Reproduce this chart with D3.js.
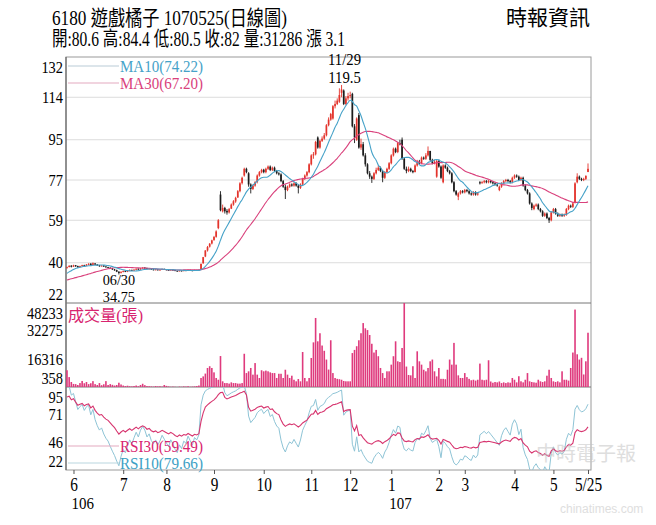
<!DOCTYPE html>
<html>
<head>
<meta charset="utf-8">
<script src="https://cdn.jsdelivr.net/npm/d3@7"></script>
<style>
body{margin:0;background:#fff;}
text{font-family:"Liberation Serif","Noto Sans CJK TC",serif;}
</style>
</head>
<body>
<div id="chart"></div>
<script>
//Daily candles, 2017/05 - 2018/05/25
var opens=[37.6,38.1,38.7,38.3,38.9,38.5,38.1,38.5,38.9,38.7,
39.1,39.6,39.0,39.7,39.2,38.8,38.5,38.7,38.3,38.0,
37.8,37.4,37.0,36.7,36.0,35.5,35.9,36.3,36.0,36.4,
36.8,36.5,36.9,37.3,37.0,37.5,37.8,37.6,37.2,37.4,
37.0,36.8,37.0,36.7,36.9,37.2,37.0,36.8,36.6,36.9,
36.7,36.4,36.2,36.5,36.3,36.6,36.5,36.8,36.6,36.4,
36.7,36.6,36.9,39.8,42.8,45.5,47.2,48.6,50.2,51.6,
55.5,70.5,63.0,64.5,63.2,62.5,64.2,66.0,67.4,69.2,
72.0,75.6,79.0,82.0,80.0,75.0,73.0,74.5,76.2,79.0,
80.5,81.6,80.5,82.0,83.0,81.5,82.5,81.0,80.0,79.5,
76.5,74.0,72.5,74.0,75.0,74.5,75.5,74.5,73.5,75.0,
77.5,79.0,80.5,84.0,88.0,88.5,96.0,91.5,94.5,95.5,
97.0,101.5,104.0,104.5,110.0,111.0,112.0,116.0,117.0,111.0,
113.5,114.5,115.5,101.0,95.0,106.0,91.5,93.0,88.0,84.0,
80.0,78.5,77.5,80.0,81.5,82.5,81.0,78.0,80.5,82.0,
84.5,88.0,91.0,89.5,93.5,95.0,86.5,82.0,81.0,82.0,
81.0,80.5,83.5,85.0,84.5,87.0,86.5,88.0,90.0,86.0,
84.5,78.5,85.5,83.0,76.0,83.5,82.5,81.0,80.0,76.0,
72.0,69.5,71.0,72.0,71.5,72.5,72.0,71.0,70.5,71.5,
70.5,76.0,75.5,76.0,76.5,76.0,76.5,76.0,75.5,75.0,
72.5,74.0,75.5,76.5,77.0,76.5,76.0,78.0,79.0,78.5,
77.0,78.0,74.5,72.5,71.0,66.5,64.0,65.5,66.0,64.0,
63.0,61.0,62.0,60.0,59.0,62.5,64.0,62.0,61.0,61.5,
61.0,61.5,64.0,65.5,65.0,67.0,76.0,78.5,77.5,77.0,
77.5,80.6];
var highs=[38.3,38.9,38.9,39.1,39.0,38.7,38.7,39.1,39.1,39.4,
39.8,39.8,40.1,39.8,39.4,39.0,38.9,38.9,38.5,38.2,
37.9,37.6,37.2,36.9,36.2,36.2,36.5,36.5,36.6,37.0,
36.9,37.1,37.5,37.5,37.7,38.0,38.0,37.8,37.6,37.5,
37.1,37.2,37.1,37.1,37.4,37.4,37.1,36.9,37.1,37.0,
36.8,36.5,36.7,36.6,36.8,36.8,37.0,36.9,36.7,36.9,
36.8,36.9,39.6,42.6,45.6,47.5,48.8,50.3,52.0,54.5,
59.5,72.0,66.0,65.0,64.0,64.5,66.5,68.0,69.5,72.5,
76.0,78.5,82.5,82.5,80.5,75.5,75.0,76.5,79.5,81.0,
82.0,82.0,82.5,83.5,83.5,83.0,83.0,81.5,80.5,80.0,
77.0,75.0,74.5,75.5,75.5,76.0,76.0,75.0,75.5,78.0,
79.5,81.0,84.5,88.5,89.5,94.5,96.5,95.0,96.5,98.0,
102.0,105.0,107.0,110.5,112.5,113.5,118.0,119.5,117.5,114.5,
116.0,116.5,116.0,102.0,105.0,107.0,95.5,94.0,89.0,84.5,
81.0,79.0,80.5,82.5,83.5,83.0,81.5,81.0,82.5,85.0,
88.5,91.5,91.5,94.0,95.0,96.0,87.0,83.0,83.0,82.5,
81.5,84.0,86.0,86.0,87.5,87.5,89.0,92.0,90.0,86.5,
86.0,86.0,86.0,83.5,84.0,84.0,83.0,81.5,80.5,76.5,
72.5,71.5,72.5,72.5,73.0,73.0,72.5,71.5,72.0,72.0,
71.5,76.5,76.5,77.0,77.0,77.0,77.0,76.5,76.0,75.5,
74.5,76.0,77.0,77.5,77.5,77.0,78.5,79.5,79.5,79.0,
78.5,78.5,75.0,73.0,71.5,67.0,66.0,66.5,66.5,64.5,
63.5,62.5,62.5,60.5,63.0,64.5,64.5,62.5,62.0,62.0,
62.0,64.5,66.0,66.0,67.0,76.0,80.0,79.0,78.0,78.0,
79.0,84.4];
var lows=[37.4,37.9,37.9,38.1,38.2,37.8,37.9,38.3,38.4,38.5,
38.9,38.8,38.8,39.0,38.6,38.2,38.3,38.1,37.8,37.6,
37.2,36.8,36.4,35.8,34.75,35.2,35.7,35.8,35.8,36.2,
36.3,36.3,36.7,36.8,36.8,37.3,37.4,37.0,37.0,36.8,
36.6,36.6,36.5,36.5,36.8,36.8,36.6,36.4,36.5,36.5,
36.2,36.0,36.1,36.1,36.2,36.3,36.4,36.4,36.2,36.3,
36.4,36.4,36.8,39.5,42.5,45.0,46.8,48.2,49.8,51.2,
55.0,63.0,62.5,62.0,61.5,62.0,64.0,65.5,66.8,69.0,
71.5,75.0,78.5,80.0,74.0,71.0,72.5,74.0,75.5,78.5,
80.0,80.0,80.0,81.5,81.0,81.0,80.5,79.5,79.0,76.0,
73.5,68.5,72.0,73.5,74.0,74.0,74.0,71.0,73.0,74.5,
77.0,78.5,80.0,83.5,86.5,88.0,91.0,91.0,94.0,95.0,
96.5,101.0,103.5,104.0,109.0,110.5,111.5,114.0,110.5,110.5,
112.5,113.5,100.5,93.5,94.5,91.0,90.5,87.5,83.0,79.5,
77.5,75.7,77.0,79.5,81.0,80.5,76.0,77.5,80.0,81.5,
84.0,87.5,89.0,89.0,92.5,86.0,81.5,80.0,80.5,80.5,
80.0,80.5,83.0,84.0,84.0,86.0,86.0,87.5,85.5,84.0,
84.0,78.0,82.5,77.5,75.5,82.0,80.5,79.5,75.5,71.5,
70.0,68.0,70.5,71.0,71.0,71.5,70.5,70.0,70.0,70.0,
70.0,75.0,75.5,75.5,75.5,75.5,75.5,75.0,74.5,74.0,
72.0,73.5,75.0,76.0,76.0,75.5,75.5,77.5,78.0,76.5,
76.5,74.0,72.0,70.5,66.0,63.5,63.5,65.0,63.5,62.5,
60.5,60.5,59.5,57.8,58.5,62.0,61.5,60.5,60.5,60.5,
60.5,61.0,63.5,64.5,64.5,66.5,75.5,77.0,76.5,76.5,
77.0,80.5];
var closes=[38.0,38.6,38.2,38.8,38.4,38.0,38.5,38.9,38.6,39.2,
39.5,39.0,39.8,39.2,38.8,38.5,38.7,38.3,38.0,37.8,
37.4,37.0,36.6,36.0,35.4,35.9,36.3,36.0,36.4,36.8,
36.5,36.9,37.3,37.0,37.5,37.8,37.6,37.2,37.4,37.0,
36.8,37.0,36.7,36.9,37.2,37.0,36.8,36.6,36.9,36.7,
36.4,36.2,36.5,36.3,36.6,36.5,36.8,36.6,36.4,36.7,
36.6,36.8,39.5,42.5,45.5,47.0,48.5,50.0,51.5,54.0,
59.0,63.5,64.5,63.0,62.5,64.0,66.0,67.5,69.0,72.0,
75.5,78.0,82.0,80.5,75.0,73.0,74.5,76.0,79.0,80.5,
81.5,80.5,82.0,83.0,81.5,82.5,81.0,80.0,79.5,76.5,
74.0,72.5,74.0,75.0,74.5,75.5,74.5,73.5,75.0,77.5,
79.0,80.5,84.0,88.0,88.5,94.0,91.5,94.5,95.5,97.0,
101.5,104.0,106.5,110.0,111.0,112.5,115.0,117.5,111.0,113.5,
114.5,115.0,101.0,96.0,104.5,91.5,93.0,88.0,84.0,80.0,
78.5,77.5,80.0,81.5,82.5,81.0,78.0,80.5,82.0,84.5,
88.0,91.0,89.5,93.5,93.0,86.5,82.0,81.0,82.0,81.0,
80.5,83.5,85.0,84.5,87.0,86.5,88.0,90.0,86.0,84.5,
85.0,85.5,83.0,78.0,83.5,82.5,81.0,80.0,76.0,72.0,
70.5,71.0,72.0,71.5,72.5,72.0,71.0,70.5,71.5,70.5,
71.0,75.5,76.0,76.5,76.0,76.5,76.0,75.5,75.0,74.5,
74.0,75.5,76.5,77.0,76.5,76.0,78.0,79.0,78.5,77.0,
78.0,74.5,72.5,71.0,66.5,64.5,65.5,66.0,64.0,63.0,
61.0,62.0,60.0,59.0,62.5,64.0,62.0,61.0,61.5,61.0,
61.5,64.0,65.5,65.0,66.5,75.5,78.5,77.5,77.0,77.5,
78.9,82.0];
//Volume in lots (張)
var volumes=[9900,6000,3200,2100,2000,1500,2600,3800,2500,3200,
2000,2500,3700,2000,1500,2600,1400,1900,3700,1500,
2000,1600,1200,1500,2800,1800,1200,900,1100,800,
700,900,1200,800,1500,2200,1400,900,800,700,
600,900,700,800,600,1500,1000,700,500,600,
500,400,600,500,700,600,800,500,600,700,
900,1200,5500,6400,8000,11200,12200,11200,8700,5500,
4500,18000,3600,2600,2600,2300,3000,2600,2600,2300,
2300,2600,19300,8300,9300,11200,7400,14000,7400,5500,
9900,9300,9700,9300,8700,8300,8300,5500,7900,7900,
5500,10200,7400,5500,6800,4500,3600,4900,3600,20300,
5500,3600,5500,16900,25800,39700,26400,31000,24000,21000,
16000,10300,27000,8300,5500,5000,4800,4500,3800,3600,
3600,3600,19700,21500,23600,27000,31000,36800,33800,32800,
30000,25000,20000,21500,17900,11200,8300,5500,9300,9300,
13100,17900,26400,15000,14600,22600,48233,12000,7200,7000,
12200,5500,20700,15000,13100,10200,9300,11200,15000,16000,
9300,6400,11200,5000,5000,4800,10200,16000,13100,25500,
13100,7000,5500,5500,8300,6000,5000,4200,4500,4000,
4500,13700,4500,4200,4500,15600,3500,2800,3200,3000,
3500,2600,3000,2600,3000,2800,5500,4500,3000,6500,
3600,3000,4500,8300,3600,3200,3000,2800,4500,3600,
3200,3600,6800,10200,5500,3600,3200,3600,3000,9300,
4500,4500,4000,11200,20000,44500,19000,16000,17000,7500,
15000,31286];
//Closes before the window, only used to seed MA / RSI (inferred from where the MA lines start)
var preCloses=[30.2,30.5,30.4,30.8,31.0,30.7,30.6,30.9,31.2,31.0,
30.8,30.5,30.6,30.9,31.0,30.8,30.7,30.9,31.2,31.4,
32.0,32.8,33.5,34.2,35.0,35.6,36.4,37.2,37.8];

//Axis ticks
var priceTicks=[132,114,95,77,59,40,22];
var volTicks=[48233,32275,16316,358];
var rsiTicks=[95,71,46,22];
var monthLabels=["6","7","8","9","10","11","12","1","2","3","4","5","5/25"];
var monthIdx=[3,26,46,68,91,113,131,150,172,184,207,225,241];
var yearLabels=["106","107"];
var yearIdx=[3,150];
var lowDate="06/30", highDate="11/29";

var W=656, H=525;
var fr={left:66,right:591,top:57,pBot:303,vBot:387,bottom:470};
var upColor="#e3342c", downColor="#1c1c1c";
var ma10Color="#46a2c8", ma30Color="#d9417c";
var volColor="#df3a7d";
var rsi10Color="#8ec4d6", rsi30Color="#d7356f";

var svg=d3.select("#chart").append("svg").attr("width",W).attr("height",H);

//Shrink text to the narrow look of the original
function squeeze(sel,k){
    sel.each(function(){
        var w=this.getComputedTextLength();
        d3.select(this).attr("textLength",w*k).attr("lengthAdjust","spacingAndGlyphs");
    });
}

//Scales
var x=d3.scaleLinear().domain([0,closes.length-1]).range([67,588]);
var yP=d3.scaleLinear().domain([22,132]).range([fr.pBot,fr.top]);
var yV=d3.scaleLinear().domain([358,48233]).range([fr.vBot,fr.pBot]).clamp(true);
var yR=d3.scaleLinear().domain([22,95]).range([fr.bottom,fr.vBot]);

//Moving averages and RSI from closes
var all=preCloses.concat(closes);
var off=preCloses.length;
function ma(n){
    return closes.map(function(d,i){
        var s=all.slice(Math.max(0,i+off-n+1),i+off+1);
        return d3.mean(s);
    });
}
function rsi(n){
    var ag=0, al=0, out=[];
    for (var t=1;t<all.length;t++){
        var ch=all[t]-all[t-1], g=Math.max(ch,0), l=Math.max(-ch,0);
        var k=Math.min(t,n);
        ag=(ag*(k-1)+g)/k; al=(al*(k-1)+l)/k;
        if (t>=off) out.push(ag+al==0?50:100*ag/(ag+al));
    }
    return out;
}
var ma10=ma(10), ma30=ma(30), rsi10=rsi(10), rsi30=rsi(30);

//Title
svg.append("text").attr("x",52).attr("y",25).style("font-size","21px")
   .text("6180  遊戲橘子 1070525(日線圖)").attr("textLength",235).attr("lengthAdjust","spacingAndGlyphs");
svg.append("text").attr("x",52).attr("y",46).style("font-size","20px")
   .text("開:80.6 高:84.4 低:80.5 收:82 量:31286 漲 3.1").attr("textLength",293).attr("lengthAdjust","spacingAndGlyphs");
svg.append("text").attr("x",590).attr("y",25).attr("text-anchor","end").style("font-size","21px")
   .text("時報資訊");

//Grid
svg.append("g").selectAll("line").data(priceTicks.slice(1,-1)).enter().append("line")
   .attr("x1",fr.left).attr("x2",fr.right)
   .attr("y1",function(d){return yP(d);}).attr("y2",function(d){return yP(d);})
   .style("stroke","#dcdcdc");

//Frame
svg.append("rect").attr("x",fr.left).attr("y",fr.top).attr("width",fr.right-fr.left).attr("height",fr.bottom-fr.top)
   .style("fill","none").style("stroke","#9a9a9a");
svg.append("line").attr("x1",fr.left).attr("x2",fr.left).attr("y1",fr.top).attr("y2",fr.bottom).style("stroke","#555");
[fr.pBot,fr.vBot].forEach(function(yy){
    svg.append("line").attr("x1",fr.left).attr("x2",fr.right).attr("y1",yy).attr("y2",yy).style("stroke","#777");
});

//Left labels (kept inside their panel)
function leftLabels(ticks,scale,top,bot){
    svg.append("g").selectAll("text").data(ticks).enter().append("text")
       .attr("x",63).attr("text-anchor","end").attr("dominant-baseline","central")
       .attr("y",function(d){return Math.max(top+10,Math.min(bot-9,scale(d)));})
       .style("font-size","16px").text(function(d){return d;})
       .call(squeeze,0.9);
}
leftLabels(priceTicks,yP,fr.top,fr.pBot);
leftLabels(volTicks,yV,fr.pBot,fr.vBot);
leftLabels(rsiTicks,yR,fr.vBot,fr.bottom);

//Clip paths
var defs=svg.append("defs");
defs.append("clipPath").attr("id","clipP").append("rect").attr("x",fr.left).attr("y",fr.top).attr("width",fr.right-fr.left).attr("height",fr.pBot-fr.top);
defs.append("clipPath").attr("id","clipR").append("rect").attr("x",fr.left).attr("y",fr.vBot).attr("width",fr.right-fr.left).attr("height",fr.bottom-fr.vBot);

//Legend for MA
var legMA=[{t:"MA10(74.22)",c:ma10Color,l:"#b9cbd6",y:66},{t:"MA30(67.20)",c:ma30Color,l:"#e3a9bf",y:83}];
legMA.forEach(function(d){
    svg.append("line").attr("x1",68).attr("x2",119).attr("y1",d.y).attr("y2",d.y).style("stroke",d.l);
    svg.append("text").attr("x",120).attr("y",d.y).attr("dominant-baseline","central")
       .style("font-size","16px").style("fill",d.c).text(d.t).attr("textLength",83).attr("lengthAdjust","spacingAndGlyphs");
});

//Candles
var days=d3.range(closes.length);
var gc=svg.append("g").attr("clip-path","url(#clipP)");
gc.selectAll("line.wick").data(days).enter().append("line")
  .attr("x1",function(i){return x(i);}).attr("x2",function(i){return x(i);})
  .attr("y1",function(i){return yP(highs[i]);}).attr("y2",function(i){return yP(lows[i]);})
  .style("stroke",function(i){return closes[i]>=opens[i]?upColor:downColor;}).style("stroke-width",0.9);
gc.selectAll("rect").data(days).enter().append("rect")
  .attr("x",function(i){return x(i)-0.85;}).attr("width",1.7)
  .attr("y",function(i){return yP(Math.max(opens[i],closes[i]));})
  .attr("height",function(i){return Math.max(0.8,Math.abs(yP(opens[i])-yP(closes[i])));})
  .style("fill",function(i){return closes[i]>=opens[i]?upColor:downColor;});

//MA lines
var lineP=function(arr){return d3.line().x(function(d,i){return x(i);}).y(function(d){return yP(d);}).curve(d3.curveMonotoneX)(arr);};
gc.append("path").attr("d",lineP(ma30)).style("fill","none").style("stroke",ma30Color).style("stroke-width",1.1);
gc.append("path").attr("d",lineP(ma10)).style("fill","none").style("stroke",ma10Color).style("stroke-width",1.1);

//Extremes notes
var iLow=d3.minIndex(lows), iHigh=d3.maxIndex(highs);
svg.append("text").attr("x",x(iLow)).attr("y",285).attr("text-anchor","middle").style("font-size","15px").text(lowDate).call(squeeze,0.95);
svg.append("text").attr("x",x(iLow)).attr("y",302).attr("text-anchor","middle").style("font-size","15px").text(d3.format(".2f")(lows[iLow])).call(squeeze,0.95);
svg.append("text").attr("x",x(iHigh)+3).attr("y",65).attr("text-anchor","middle").style("font-size","16px").text(highDate).call(squeeze,0.92);
svg.append("text").attr("x",x(iHigh)+3).attr("y",83).attr("text-anchor","middle").style("font-size","16px").text(highs[iHigh]).call(squeeze,0.92);

//Volume bars
svg.append("g").selectAll("rect").data(days).enter().append("rect")
   .attr("x",function(i){return x(i)-0.8;}).attr("width",1.6)
   .attr("y",function(i){return yV(volumes[i]);})
   .attr("height",function(i){return fr.vBot-yV(volumes[i]);})
   .style("fill",volColor);
svg.append("text").attr("x",68).attr("y",321).style("font-size","16px").style("fill","#d8246f")
   .text("成交量(張)").attr("textLength",75).attr("lengthAdjust","spacingAndGlyphs");

//RSI
var gr=svg.append("g").attr("clip-path","url(#clipR)");
var lineR=function(arr){return d3.line().x(function(d,i){return x(i);}).y(function(d){return yR(d);})(arr);};
gr.append("path").attr("d",lineR(rsi10)).style("fill","none").style("stroke",rsi10Color).style("stroke-width",1);
gr.append("path").attr("d",lineR(rsi30)).style("fill","none").style("stroke",rsi30Color).style("stroke-width",1.1);
var legR=[{t:"RSI30(59.49)",c:"#d8246f",l:"#e3a9bf",y:446},{t:"RSI10(79.66)",c:"#3d9fc4",l:"#b9d6df",y:463}];
legR.forEach(function(d){
    svg.append("line").attr("x1",68).attr("x2",119).attr("y1",d.y).attr("y2",d.y).style("stroke",d.l);
    svg.append("text").attr("x",120).attr("y",d.y).attr("dominant-baseline","central")
       .style("font-size","16px").style("fill",d.c).text(d.t).attr("textLength",83).attr("lengthAdjust","spacingAndGlyphs");
});

//Month axis
var xAxis=d3.axisBottom(x).tickValues(monthIdx).tickSize(4).tickPadding(4)
            .tickFormat(function(d,i){return monthLabels[i];});
var ga=svg.append("g").attr("transform","translate(0,"+fr.bottom+")").call(xAxis);
ga.select(".domain").remove();
ga.selectAll("line").style("stroke","#555");
ga.selectAll("text").style("font-size","18px").style("font-family","Liberation Serif").style("fill","#000").call(squeeze,0.85);
svg.append("g").selectAll("text").data(yearLabels).enter().append("text")
   .attr("x",function(d,i){return x(yearIdx[i])-2;}).attr("y",509)
   .style("font-size","17px").text(function(d){return d;}).call(squeeze,0.88);

//Faint watermark of the source site (kept clear of the axis labels)
var wm=svg.append("g").style("opacity",0.55);
wm.append("text").attr("x",536).attr("y",461).style("font-size","20px").style("fill","#c4c4c4")
  .style("font-family","Noto Sans CJK TC").text("中時電子報");
wm.append("text").attr("x",560).attr("y",513).style("font-size","12px").style("fill","#c4c4c4")
  .style("font-family","Liberation Sans").text("chinatimes.com");
</script>
</body>
</html>
